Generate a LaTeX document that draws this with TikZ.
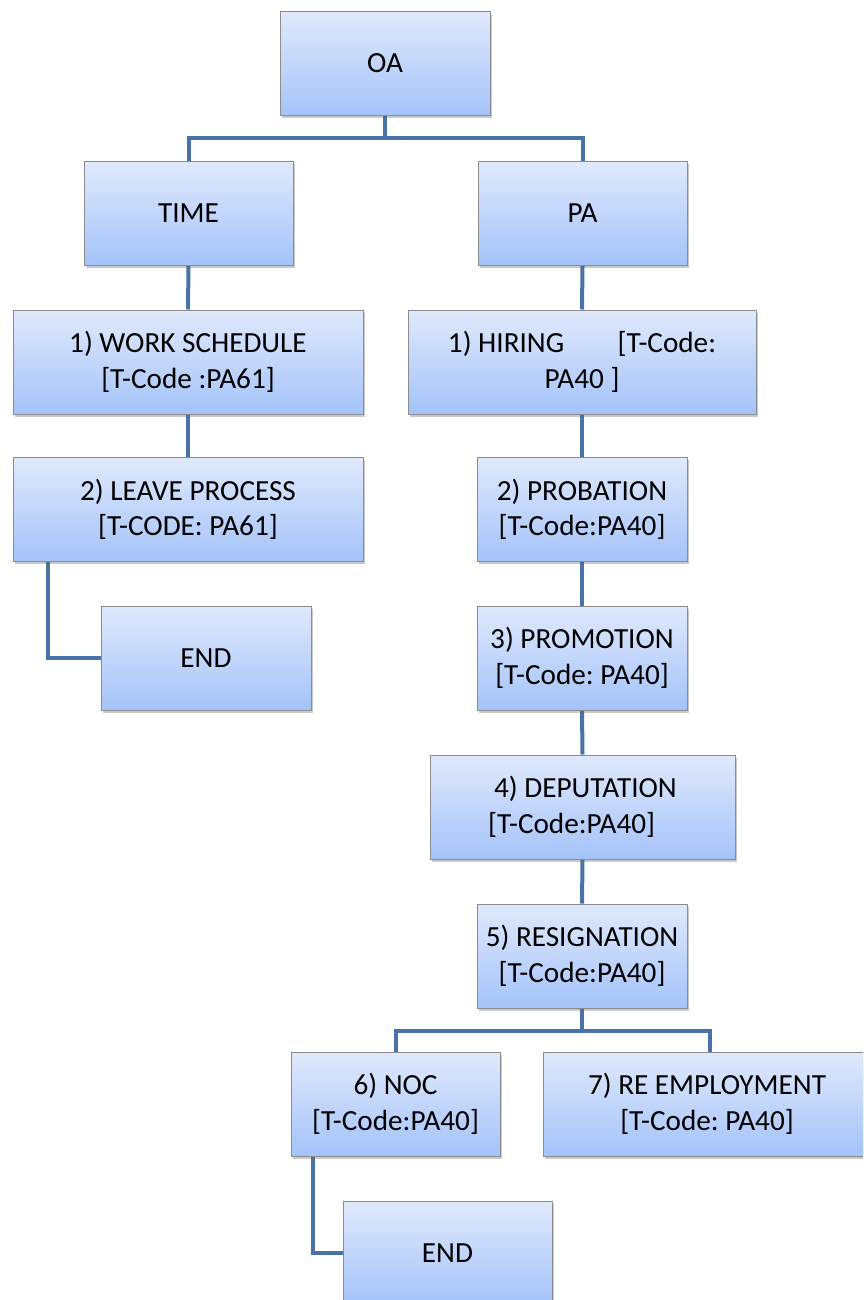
\documentclass[tikz,border=0pt]{standalone}
\usepackage{fontspec}
\setmainfont{Carlito}
\usetikzlibrary{shadows,backgrounds}
\frenchspacing
\definecolor{boxtop}{RGB}{224,233,252}
\definecolor{boxbot}{RGB}{164,195,250}
\definecolor{boxline}{RGB}{140,140,140}
\definecolor{conn}{RGB}{72,114,168}
\tikzset{
  orgbox/.style={draw=boxline, line width=1pt, top color=boxtop, bottom color=boxbot,
    minimum height=104pt, inner sep=2pt, align=center,
    font=\fontsize{29.2}{35.5}\selectfont,
    drop shadow={shadow xshift=2pt, shadow yshift=-2.5pt, opacity=0.35, fill=black!60}},
  link/.style={draw=conn, line width=4pt}
}
\begin{document}
\begin{tikzpicture}[x=1pt,y=-1pt]
\useasboundingbox (0,0) rectangle (863,1300);
\clip (0,0) rectangle (863,1300);
% nodes
\node[orgbox, minimum width=210pt] (oa) at (385,63.5) {OA};
\node[orgbox, minimum width=209pt] (time) at (188.5,213.5) {TIME};
\node[orgbox, minimum width=209pt] (pa) at (582.5,213.5) {PA};
\node[orgbox, minimum width=350pt] (ws) at (188,362) {1) WORK SCHEDULE\\{}[T-Code :PA61]};
\node[orgbox, minimum width=348pt] (hire) at (582,362) {1) HIRING\hspace{1.6em} [T-Code:\\PA40 ]};
\node[orgbox, minimum width=350pt] (leave) at (188,509.5) {2) LEAVE PROCESS\\{}[T-CODE: PA61]};
\node[orgbox, minimum width=210pt] (end1) at (206,658) {END};
\node[orgbox, minimum width=210pt] (prob) at (582,509.5) {2) PROBATION\\{}[T-Code:PA40]};
\node[orgbox, minimum width=210pt] (prom) at (582,658) {3) PROMOTION\\{}[T-Code: PA40]};
\node[orgbox, minimum width=305pt, align=left] (dep) at (582.5,807) {\hspace{6pt}4) DEPUTATION\\{}[T-Code:PA40]\hspace{12pt}};
\node[orgbox, minimum width=210pt] (res) at (582,956) {5) RESIGNATION\\{}[T-Code:PA40]};
\node[orgbox, minimum width=209pt] (noc) at (395.5,1104) {6) NOC\\{}[T-Code:PA40]};
\node[orgbox, minimum width=328pt] (reemp) at (707,1104) {7) RE EMPLOYMENT\\{}[T-Code: PA40]};
\node[orgbox, minimum width=209pt] (end2) at (447.5,1253) {END};
% connectors
\coordinate (bus1) at (385,138);
\coordinate (bus2) at (582,1031);
\begin{scope}[on background layer]
\draw[link] (oa.south) -- (bus1);
\draw[link] (bus1) -| (time.north);
\draw[link] (bus1) -| (pa.north);
\draw[link] (time.south) -- (ws.north);
\draw[link] (ws.south) -- (leave.north);
\draw[link] ([xshift=35pt]leave.south west) |- (end1.west);
\draw[link] (pa.south) -- (hire.north);
\draw[link] (hire.south) -- (prob.north);
\draw[link] (prob.south) -- (prom.north);
\draw[link] (prom.south) -- (dep.north);
\draw[link] (dep.south) -- (res.north);
\draw[link] (res.south) -- (bus2);
\draw[link] (bus2) -| (noc.north);
\draw[link] (bus2) -| ([xshift=3pt]reemp.north);
\draw[link] ([xshift=22pt]noc.south west) |- (end2.west);
\end{scope}
\end{tikzpicture}
\end{document}
